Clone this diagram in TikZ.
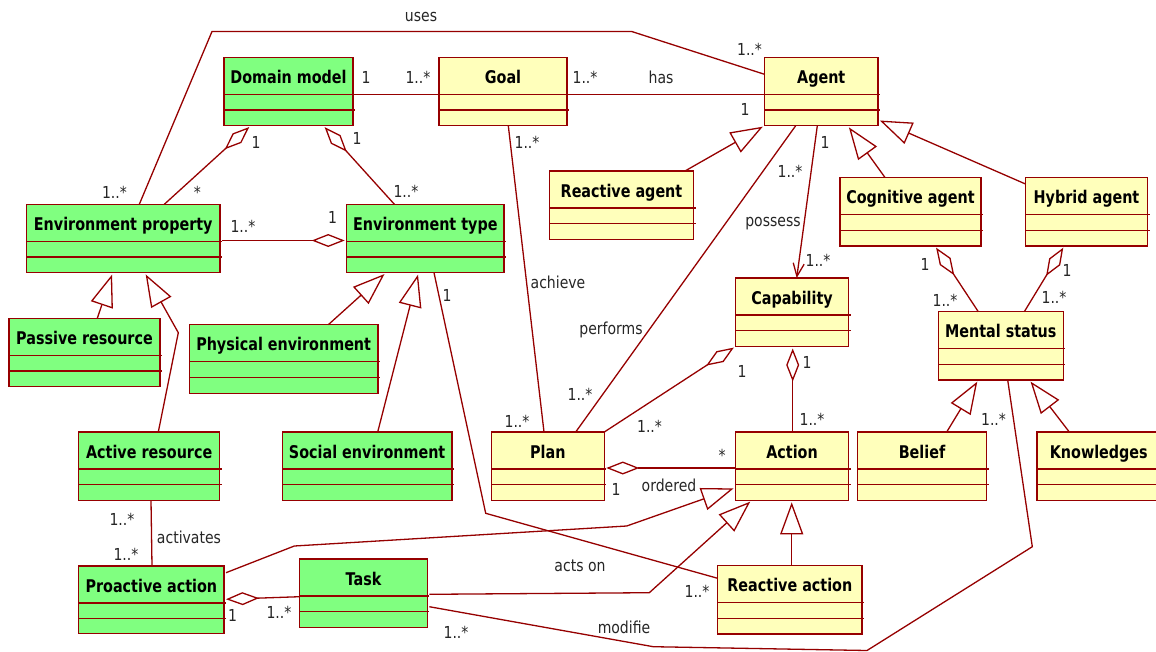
\documentclass[tikz,border=0pt]{standalone}
\usepackage{fontspec}
\usetikzlibrary{arrows.meta,calc}
\newfontfamily\titlefont{DejaVu Sans}[FakeStretch=0.82]
\newfontfamily\labfont{DejaVu Sans}[FakeStretch=0.85]
\definecolor{umlred}{RGB}{150,0,0}
\definecolor{umlgreen}{RGB}{128,255,128}
\definecolor{umlyellow}{RGB}{255,255,187}
\tikzset{
  clsbox/.style={draw=umlred, line width=1.4pt, rectangle, inner sep=0pt, outer sep=0pt},
  sepline/.style={draw=umlred, line width=1.3pt},
  titletext/.style={font=\titlefont\bfseries\fontsize{17.5}{20}\selectfont, text=black, inner sep=0pt, anchor=base},
  lab/.style={font=\labfont\fontsize{16.5}{19}\selectfont, text=black!85, inner sep=0pt, anchor=base},
  conn/.style={draw=umlred, line width=1.3pt},
  gen/.style={conn, -{Triangle[length=32pt,width=23pt,fill=white]}, shorten >=2pt},
  agg/.style={conn, {Diamond[length=33pt,width=13pt,fill=white]}-, shorten <=2pt},
  nav/.style={conn, -{Straight Barb[length=13pt,width=11pt]}},
}
\newcommand\umlbox[7]{%
  \node[clsbox, fill=#6, minimum width={(#4)-(#2)}, minimum height={(#5)-(#3)}] (#1) at ({((#2)+(#4))/2},{((#3)+(#5))/2}) {};
  \draw[sepline] ([yshift=-37pt]#1.north west) -- ([yshift=-37pt,xshift=2pt]#1.north east);
  \draw[sepline] ([yshift=-52.7pt]#1.north west) -- ([yshift=-52.7pt,xshift=2pt]#1.north east);
  \node[titletext] (#1-t) at ([yshift=-26pt]#1.north) {#7};
}
\begin{document}
\begin{tikzpicture}[x=1pt,y=-1pt]
\clip (0,0) rectangle (1156,651);
\fill[white] (0,0) rectangle (1156,651);

% classes
\umlbox{dm}{224}{57.3}{353}{125.7}{umlgreen}{Domain model}
\umlbox{goal}{439}{57.3}{567}{125.7}{umlyellow}{Goal}
\umlbox{agent}{764.5}{57.3}{878}{125.7}{umlyellow}{Agent}
\umlbox{ragent}{549.5}{171}{693.5}{239.5}{umlyellow}{Reactive agent}
\umlbox{cog}{840}{177.5}{981}{246}{umlyellow}{Cognitive agent}
\umlbox{hyb}{1025.5}{177.5}{1147.5}{246}{umlyellow}{Hybrid agent}
\umlbox{ep}{26.5}{204.3}{220}{272.7}{umlgreen}{Environment property}
\umlbox{et}{346.7}{204.3}{504}{272.7}{umlgreen}{Environment type}
\umlbox{pr}{9}{318.3}{160}{386.7}{umlgreen}{Passive resource}
\umlbox{pe}{189.3}{324.7}{378}{393.3}{umlgreen}{Physical environment}
\umlbox{cap}{735.5}{278}{848.5}{346.5}{umlyellow}{Capability}
\umlbox{ms}{938.3}{311.7}{1063.3}{380}{umlyellow}{Mental status}
\umlbox{ar}{78.7}{432}{219.7}{500.3}{umlgreen}{Active resource}
\umlbox{se}{282.3}{432}{452}{500.3}{umlgreen}{Social environment}
\umlbox{plan}{491.3}{432}{604.3}{500.3}{umlyellow}{Plan}
\umlbox{act}{735.5}{432}{848.5}{500.3}{umlyellow}{Action}
\umlbox{bel}{857.3}{432}{986.7}{500.3}{umlyellow}{Belief}
\umlbox{know}{1037}{432}{1160.5}{500.3}{umlyellow}{Knowledges}
\umlbox{pa}{78.7}{566}{224}{633.7}{umlgreen}{Proactive action}
\umlbox{task}{299.7}{559}{427.3}{627.3}{umlgreen}{Task}
\umlbox{ra}{717.7}{565.7}{862}{634}{umlyellow}{Reactive action}

% connectors
\draw[conn] (139.3,0 |- ep.north) -- (212,31.5) -- (631.7,31.5) -- ([yshift=-17pt]agent.north west);
\draw[conn] ([yshift=-37pt,xshift=2pt]dm.north east) -- ([yshift=-37pt]goal.north west);
\draw[conn] ([yshift=-37pt,xshift=2pt]goal.north east) -- ([yshift=-37pt]agent.north west);
\draw[conn] (508.3,0 |- goal.south) -- (544,0 |- plan.north);
\draw[conn] (795.7,0 |- agent.south) -- (575.7,0 |- plan.north);
\draw[nav] (817.3,0 |- agent.south) -- (796.7,0 |- cap.north);
\draw[agg] (250.7,0 |- dm.south) -- (164.3,0 |- ep.north);
\draw[agg] (323.3,0 |- dm.south) -- (394.4,0 |- et.north);
\draw[agg] ([yshift=-36.2pt]et.north west) -- ([yshift=-36.2pt,xshift=2pt]ep.north east);
\draw[gen] (97.3,0 |- pr.north) -- (112.7,0 |- ep.south);
\draw[gen] (158.3,0 |- ar.north) -- (178.3,332.7) -- (144.7,0 |- ep.south);
\draw[gen] (328.3,0 |- pe.north) -- (386,0 |- et.south);
\draw[gen] (377.7,0 |- se.north) -- (418.5,0 |- et.south);
\draw[conn] (434,0 |- et.south) -- (485.7,513.3) -- ([yshift=-12.6pt]ra.north west);
\draw[gen] (685,0 |- ragent.north) -- (agent.south west);
\draw[gen] (885,0 |- cog.north) -- (847.7,0 |- agent.south);
\draw[gen] ([yshift=-6.5pt]hyb.north west) -- ([yshift=6pt]agent.south east);
\draw[agg] (935,0 |- cog.south) -- (978.3,0 |- ms.north);
\draw[agg] (1064.3,0 |- hyb.south) -- (1024.3,0 |- ms.north);
\draw[gen] (946.7,0 |- bel.north) -- (978.3,0 |- ms.south);
\draw[gen] (1069.3,0 |- know.north) -- (1029.3,0 |- ms.south);
\draw[conn] ([yshift=-47.7pt,xshift=2pt]task.north east) -- (653.3,646.7) -- (867,650.5) -- (1032.3,546.7) -- (1007.7,0 |- ms.south);
\draw[agg] (cap.south west) -- (plan.north east);
\draw[agg] (792.7,0 |- cap.south) -- (792.7,0 |- act.north);
\draw[agg] ([yshift=-36pt]plan.north east) -- ([yshift=-36pt]act.north west);
\draw[gen] ([yshift=-6.7pt,xshift=2pt]pa.north east) -- (294.3,546) -- (626.7,526) -- ([yshift=-55.7pt]act.north west);
\draw[gen] ([yshift=-35.3pt,xshift=2pt]task.north east) -- (649.3,592.7) -- (751.7,0 |- act.south);
\draw[gen] (791.7,0 |- ra.north) -- (791.7,0 |- act.south);
\draw[conn] (151,0 |- ar.south) -- (152,0 |- pa.north);
\draw[agg] ([yshift=-33.3pt]pa.north east) -- ([yshift=-37.7pt]task.north west);

% labels
\node[lab] (l1) at (421,21.7) {uses};
\node[lab] (l2) at (366,83) {1};
\node[lab] (l3) at (418,83) {1..*};
\node[lab] (l4) at (585,83) {1..*};
\node[lab] (l5) at (661,83) {has};
\node[lab] (l6) at (745,115) {1};
\node[lab] (l7) at (749.5,55) {1..*};
\node[lab] (l8) at (114.5,198) {1..*};
\node[lab] (l9) at (527,148) {1..*};
\node[lab] (l10) at (558,288) {achieve};
\node[lab] (l11) at (517,427) {1..*};
\node[lab] (l12) at (790,177) {1..*};
\node[lab] (l13) at (611,334.5) {performs};
\node[lab] (l14) at (580,400) {1..*};
\node[lab] (l15) at (825,148) {1};
\node[lab] (l16) at (773,226.5) {possess};
\node[lab] (l17) at (818,266) {1..*};
\node[lab] (l18) at (256,148) {1};
\node[lab] (l19) at (197.5,198) {*};
\node[lab] (l20) at (357,144) {1};
\node[lab] (l21) at (406,197) {1..*};
\node[lab] (l22) at (243,232) {1..*};
\node[lab] (l23) at (332.5,223) {1};
\node[lab] (l24) at (447,301.7) {1};
\node[lab] (l25) at (697,597) {1..*};
\node[lab] (l26) at (925,270) {1};
\node[lab] (l27) at (945,306.7) {1..*};
\node[lab] (l28) at (1067,276.7) {1};
\node[lab] (l29) at (1054,303) {1..*};
\node[lab] (l30) at (993.5,425) {1..*};
\node[lab] (l31) at (456,638) {1..*};
\node[lab] (l32) at (624,633) {modifie};
\node[lab] (l33) at (742,377) {1};
\node[lab] (l34) at (649.5,432) {1..*};
\node[lab] (l35) at (807,368) {1};
\node[lab] (l36) at (812,425) {1..*};
\node[lab] (l37) at (722,461) {*};
\node[lab] (l38) at (616,495) {1};
\node[lab] (l39) at (669,491) {ordered};
\node[lab] (l40) at (580,571.7) {acts on};
\node[lab] (l41) at (189,543) {activates};
\node[lab] (l42) at (122,525) {1..*};
\node[lab] (l43) at (126,560) {1..*};
\node[lab] (l44) at (232.5,621.7) {1};
\node[lab] (l45) at (279,618) {1..*};
\end{tikzpicture}
\end{document}
